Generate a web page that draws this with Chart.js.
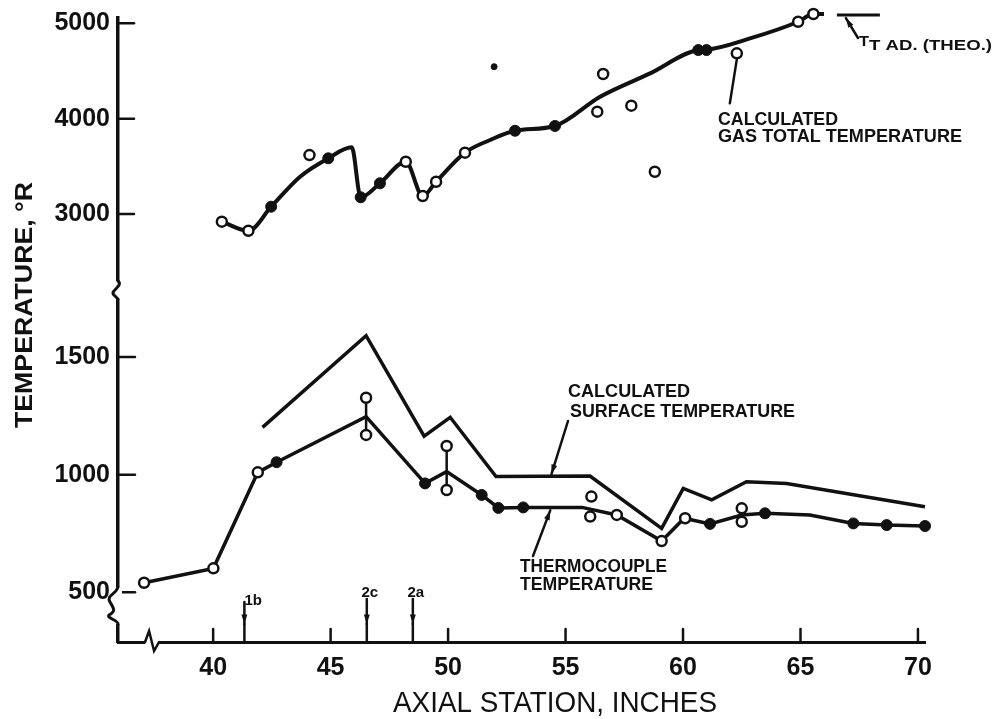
<!DOCTYPE html>
<html>
<head>
<meta charset="utf-8">
<script src="https://cdn.jsdelivr.net/npm/chart.js@4.4.0/dist/chart.umd.min.js"></script>
<style>
html, body { margin: 0; padding: 0; background: #fff; }
</style>
</head>
<body>
<canvas id="canvas" width="995" height="719"></canvas>
<script>
// upper part: calculated gas total temperature, deg R
const gasCurveX = [40.37, 41.5, 42.47, 43.7, 44.9, 45.9, 46.28, 47.1, 48.2, 48.92, 49.49, 50.72, 51.79, 52.85, 54.55, 56.47, 58.6, 60.65, 61.0, 62.85, 64.9, 65.55, 66.0];
const gasCurveY = [2919, 2824, 3076, 3391, 3584, 3699, 3175, 3322, 3548, 3188, 3338, 3643, 3776, 3873, 3923, 4230, 4475, 4720, 4725, 4842, 5017, 5098, 5098];
const gasFilledX = [42.47, 44.9, 46.28, 47.1, 52.85, 54.55, 60.65, 61.0];
const gasFilledY = [3076, 3584, 3175, 3322, 3873, 3923, 4720, 4720];
const gasOpenX = [40.37, 41.5, 44.1, 48.2, 48.92, 49.49, 50.72, 56.35, 56.6, 57.8, 58.8, 62.29, 64.9, 65.55];
const gasOpenY = [2919, 2824, 3618, 3548, 3188, 3338, 3643, 4073, 4468, 4136, 3443, 4685, 5017, 5098];
const gasStrayX = [51.96];
const gasStrayY = [4545];
const theoX = [66.55, 68.38];   // T_T AD (THEO.)
const theoY = [5087, 5087];

// lower part: surface and thermocouple temperatures
const surfX = [42.1, 46.51, 48.98, 50.09, 52.04, 56.04, 59.09, 60.01, 61.22, 62.7, 64.41, 70.3];
const surfY = [1201, 1591, 1164, 1244, 992, 994, 772, 942, 893, 970, 963, 864];
const tcX = [37.06, 40.01, 41.9, 42.7, 46.51, 49.02, 49.94, 51.43, 52.14, 53.2, 55.7, 57.18, 59.09, 60.05, 61.15, 62.5, 63.49, 65.4, 67.25, 68.67, 70.3];
const tcY = [541, 602, 1010, 1053, 1247, 963, 1013, 914, 859, 861, 861, 829, 718, 815, 791, 829, 836, 829, 793, 786, 782];
const tcFilledX = [42.7, 49.02, 51.43, 52.14, 53.2, 61.15, 63.49, 67.25, 68.67, 70.3];
const tcFilledY = [1053, 963, 914, 859, 861, 791, 836, 793, 786, 782];
const tcOpenX = [37.06, 40.01, 41.9, 46.51, 46.51, 49.94, 49.94, 56.1, 56.05, 57.18, 59.09, 60.09, 62.5, 62.5];
const tcOpenY = [541, 602, 1010, 1327, 1169, 1122, 935, 907, 822, 829, 718, 815, 857, 800];
const spreadX = [46.51, 49.94, 62.5];
const spreadHi = [1327, 1122, 857];
const spreadLo = [1169, 935, 800];

const stationX = [41.33, 46.54, 48.5];
const stationLabels = ['1b', '2c', '2a'];

const xTicks = [40, 45, 50, 55, 60, 65, 70];
const hiTicks = [3000, 4000, 5000];
const loTicks = [500, 1000, 1500];

const ink = '#111';
const fam = '"Liberation Sans", Arial, sans-serif';

function pts(xs, ys) {
  return xs.map((x, i) => ({x: x, y: ys[i]}));
}
function spreadPts() {
  let out = [];
  spreadX.forEach((x, i) => {
    out.push({x: x, y: spreadHi[i]}, {x: x, y: spreadLo[i]}, {x: x + 0.1, y: null});
  });
  return out;
}

function fitText(ctx, text, x, y, w, font, align) {
  ctx.save();
  ctx.font = font;
  ctx.textBaseline = 'alphabetic';
  ctx.textAlign = 'left';
  let m = ctx.measureText(text).width;
  let k = w / m;
  let left = align == 'center' ? x - w / 2 : x;
  ctx.translate(left, y);
  ctx.scale(k, 1);
  ctx.fillText(text, 0, 0);
  ctx.restore();
}
function seg(ctx, x1, y1, x2, y2) {
  ctx.beginPath(); ctx.moveTo(x1, y1); ctx.lineTo(x2, y2); ctx.stroke();
}
function arrow(ctx, x1, y1, x2, y2) {
  seg(ctx, x1, y1, x2, y2);
  let a = Math.atan2(y2 - y1, x2 - x1);
  ctx.beginPath();
  ctx.moveTo(x2, y2);
  ctx.lineTo(x2 - 10 * Math.cos(a - 0.3), y2 - 10 * Math.sin(a - 0.3));
  ctx.lineTo(x2 - 10 * Math.cos(a + 0.3), y2 - 10 * Math.sin(a + 0.3));
  ctx.closePath();
  ctx.fill();
}

const extras = {
  id: 'extras',
  afterDraw(chart) {
    const ctx = chart.ctx;
    const sx = chart.scales.x, hi = chart.scales.yHi, lo = chart.scales.yLo;
    ctx.save();
    ctx.strokeStyle = ink;
    ctx.fillStyle = ink;
    ctx.lineCap = 'round';

    // inward tick marks
    ctx.lineWidth = 2.5;
    xTicks.forEach(v => { let p = sx.getPixelForValue(v); seg(ctx, p, sx.top, p, sx.top - 13); });
    hiTicks.forEach(v => { let p = hi.getPixelForValue(v); seg(ctx, hi.right, p, hi.right + 16, p); });
    loTicks.forEach(v => { let p = lo.getPixelForValue(v); seg(ctx, lo.right, p, lo.right + 17, p); });

    // axis breaks
    let ax = hi.right;
    ctx.fillStyle = '#fff';
    ctx.fillRect(ax - 4, hi.bottom - 9, 8, 18);
    ctx.fillRect(ax - 4, lo.getPixelForValue(lo.min) - 55, 8, 37);
    let bx = sx.getPixelForValue(37.4);
    ctx.fillRect(bx - 7, sx.top - 4, 14, 8);
    ctx.fillStyle = ink;
    ctx.lineWidth = 3;
    ctx.beginPath();
    ctx.moveTo(ax, hi.bottom - 9);
    ctx.bezierCurveTo(ax + 6, hi.bottom - 4, ax - 9, hi.bottom + 1, ax - 4, hi.bottom + 5);
    ctx.lineTo(ax, hi.bottom + 9);
    ctx.stroke();
    let b0 = lo.getPixelForValue(lo.min) - 55;
    ctx.beginPath();
    ctx.moveTo(ax, b0);
    ctx.bezierCurveTo(ax - 2, b0 + 8, ax - 12, b0 + 8, ax - 8, b0 + 15);
    ctx.bezierCurveTo(ax - 4, b0 + 22, ax - 2, b0 + 24, ax - 9, b0 + 28);
    ctx.bezierCurveTo(ax - 12, b0 + 31, ax, b0 + 33, ax, b0 + 37);
    ctx.stroke();
    ctx.lineWidth = 2.5;
    ctx.beginPath();
    ctx.moveTo(bx - 7, sx.top);
    ctx.lineTo(bx - 3, sx.top - 11);
    ctx.lineTo(bx + 2, sx.top + 9);
    ctx.lineTo(bx + 7, sx.top);
    ctx.stroke();

    // station markers
    ctx.lineWidth = 2.5;
    stationX.forEach((v, i) => {
      let p = sx.getPixelForValue(v);
      let top = i == 0 ? sx.top - 40 : sx.top - 43;
      arrow(ctx, p, top, p, sx.top - 18);
      seg(ctx, p, sx.top - 18, p, sx.top);
      ctx.font = 'bold 15px ' + fam;
      ctx.textAlign = i == 0 ? 'left' : 'center';
      ctx.fillText(stationLabels[i], i == 0 ? p : p + 3, i == 0 ? sx.top - 37 : sx.top - 45);
    });

    // leaders
    ctx.lineWidth = 2.5;
    let gp = {x: sx.getPixelForValue(62.29), y: hi.getPixelForValue(4685)};
    seg(ctx, gp.x - 7, gp.y + 50, gp.x, gp.y + 6);
    arrow(ctx, 858, 38, sx.getPixelForValue(66.55) + 9, hi.getPixelForValue(5087) + 3);
    arrow(ctx, 568, 421, sx.getPixelForValue(54.4), lo.getPixelForValue(994) - 2);
    arrow(ctx, 533, 556, sx.getPixelForValue(54.35), lo.getPixelForValue(861) + 3);

    // labels
    ctx.fillStyle = ink;
    fitText(ctx, 'CALCULATED', 718, 125, 120, 'bold 18px ' + fam);
    fitText(ctx, 'GAS TOTAL TEMPERATURE', 718, 142, 244, 'bold 18px ' + fam);
    fitText(ctx, 'T', 859, 46, 10, 'bold 15px ' + fam);
    fitText(ctx, 'T AD. (THEO.)', 869, 50, 123, 'bold 14px ' + fam);
    fitText(ctx, 'CALCULATED', 568, 397, 122, 'bold 19px ' + fam);
    fitText(ctx, 'SURFACE TEMPERATURE', 570, 417, 225, 'bold 19px ' + fam);
    fitText(ctx, 'THERMOCOUPLE', 520, 572, 147, 'bold 19px ' + fam);
    fitText(ctx, 'TEMPERATURE', 520, 590, 133, 'bold 19px ' + fam);

    // axis titles
    fitText(ctx, 'AXIAL STATION, INCHES', 555, 712, 324, '30px ' + fam, 'center');
    ctx.save();
    ctx.translate(32, 305);
    ctx.rotate(-Math.PI / 2);
    fitText(ctx, 'TEMPERATURE, °R', 0, 0, 246, 'bold 24px ' + fam, 'center');
    ctx.restore();

    ctx.restore();
  }
};

const tickFont = {family: fam, size: 25, weight: 'bold'};
function yScale(min, max, weight, ticks) {
  return {
    type: 'linear', position: 'left', stack: 'temp', stackWeight: weight,
    min: min, max: max,
    afterBuildTicks: s => { s.ticks = ticks.map(v => ({value: v})); },
    afterFit: s => { s.width = 118; s.paddingTop = 0; s.paddingBottom = 0; },
    grid: {drawOnChartArea: false, drawTicks: false},
    border: {color: ink, width: 3.5},
    ticks: {color: ink, font: tickFont, padding: 8, callback: v => String(v)}
  };
}

const lineBase = {showLine: true, pointRadius: 0, borderColor: ink, borderWidth: 3.5, clip: false, tension: 0};
const openBase = {pointRadius: 5, pointBorderWidth: 2.5, pointBackgroundColor: '#fff', pointBorderColor: ink, clip: false};
const fillBase = {pointRadius: 5.5, pointBorderWidth: 1, pointBackgroundColor: ink, pointBorderColor: ink, clip: false};

let ctx = document.getElementById('canvas').getContext('2d');
let grafica = new Chart(ctx, {
  type: 'scatter',
  data: {
    datasets: [
      Object.assign({label: 'gas open', data: pts(gasOpenX, gasOpenY), yAxisID: 'yHi'}, openBase),
      Object.assign({label: 'gas filled', data: pts(gasFilledX, gasFilledY), yAxisID: 'yHi'}, fillBase),
      Object.assign({label: 'gas stray', data: pts(gasStrayX, gasStrayY), yAxisID: 'yHi'}, fillBase, {pointRadius: 3}),
      Object.assign({label: 'tc open', data: pts(tcOpenX, tcOpenY), yAxisID: 'yLo'}, openBase),
      Object.assign({label: 'tc filled', data: pts(tcFilledX, tcFilledY), yAxisID: 'yLo'}, fillBase),
      Object.assign({label: 'gas curve', data: pts(gasCurveX, gasCurveY), yAxisID: 'yHi'}, lineBase, {cubicInterpolationMode: 'monotone', borderWidth: 4}),
      Object.assign({label: 'theo', data: pts(theoX, theoY), yAxisID: 'yHi'}, lineBase, {borderWidth: 3}),
      Object.assign({label: 'surface', data: pts(surfX, surfY), yAxisID: 'yLo'}, lineBase),
      Object.assign({label: 'thermocouple', data: pts(tcX, tcY), yAxisID: 'yLo'}, lineBase),
      Object.assign({label: 'spread', data: spreadPts(), yAxisID: 'yLo'}, lineBase, {borderWidth: 2.5, spanGaps: false})
    ]
  },
  options: {
    responsive: false,
    animation: false,
    devicePixelRatio: 1,
    layout: {padding: {left: 0, top: 18, right: 70, bottom: 0}},
    plugins: {legend: {display: false}, tooltip: {enabled: false}},
    scales: {
      x: {
        type: 'linear', min: 35.95, max: 70.3,
        afterBuildTicks: s => { s.ticks = xTicks.map(v => ({value: v})); },
        afterFit: s => { s.height = 77; s.paddingLeft = 0; s.paddingRight = 0; },
        grid: {drawOnChartArea: false, drawTicks: false},
        border: {color: ink, width: 3},
        ticks: {color: ink, font: tickFont, padding: 11, autoSkip: false, maxRotation: 0}
      },
      yLo: yScale(289, 1785, 352, loTicks),
      yHi: yScale(2202, 5056, 272, hiTicks)
    }
  },
  plugins: [extras]
});
</script>
</body>
</html>
